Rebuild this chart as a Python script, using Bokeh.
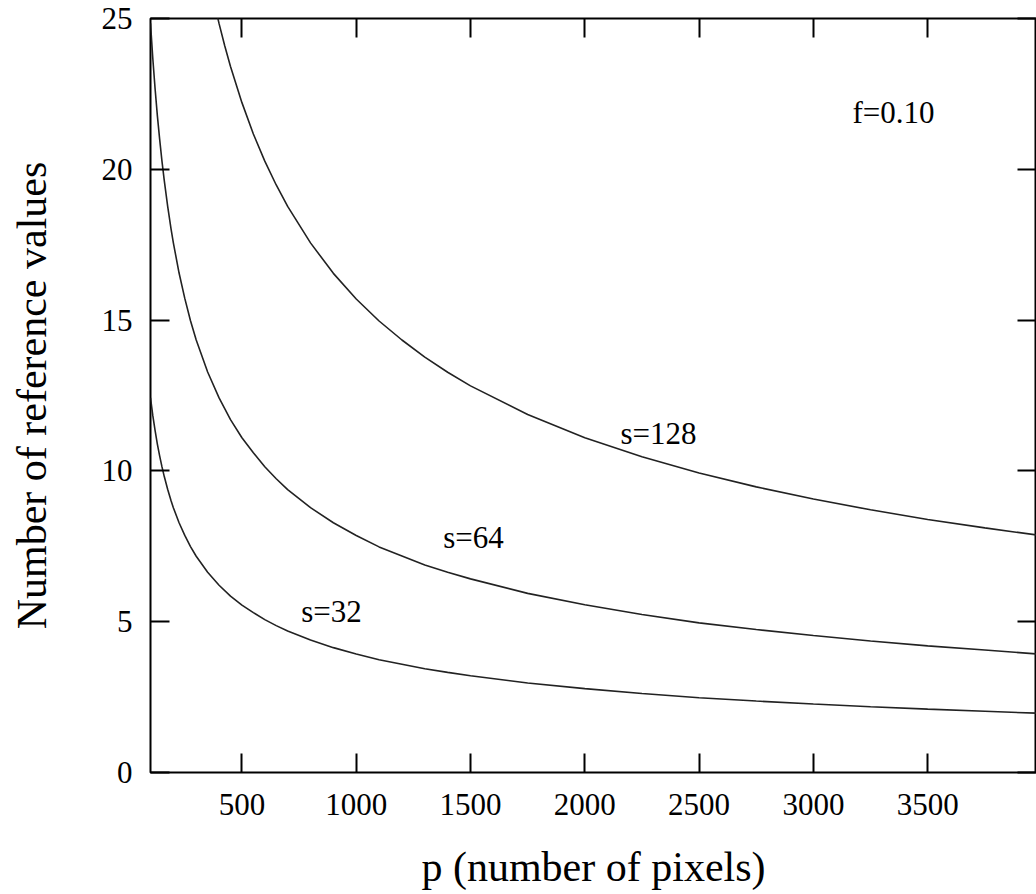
from bokeh.plotting import figure
from bokeh.models import LinearAxis, FixedTicker, Range1d, ColumnDataSource
from bokeh.core.properties import value
from bokeh.embed import file_html
from bokeh.resources import INLINE

# ---- data ----
p_low = [100, 110, 120, 130, 140, 150, 160, 175, 190, 200, 225, 250, 275, 300, 350, 400, 450, 500,
         550, 600, 650, 700, 800, 900, 1000, 1100, 1200, 1300, 1400, 1500, 1750, 2000, 2250, 2500,
         2750, 3000, 3250, 3500, 3750, 4000]
v_s32 = [12.42, 11.84, 11.34, 10.89, 10.50, 10.14, 9.82, 9.39, 9.01, 8.78, 8.28, 7.86, 7.49, 7.17,
         6.64, 6.21, 5.85, 5.55, 5.30, 5.07, 4.87, 4.69, 4.39, 4.14, 3.93, 3.74, 3.59, 3.44, 3.32,
         3.21, 2.97, 2.78, 2.62, 2.48, 2.37, 2.27, 2.18, 2.10, 2.03, 1.96]
v_s64 = [24.84, 23.68, 22.68, 21.78, 21.00, 20.28, 19.64, 18.78, 18.02, 17.56, 16.56, 15.72, 14.98,
         14.34, 13.28, 12.42, 11.70, 11.10, 10.60, 10.14, 9.74, 9.38, 8.78, 8.28, 7.86, 7.48, 7.18,
         6.88, 6.64, 6.42, 5.94, 5.56, 5.24, 4.96, 4.74, 4.54, 4.36, 4.20, 4.06, 3.92]

p_s128 = [380, 400, 425, 450, 500, 550, 600, 650, 700, 800, 900, 1000, 1100, 1200, 1300, 1400, 1500,
          1750, 2000, 2250, 2500, 2750, 3000, 3250, 3500, 3750, 4000]
v_s128 = [25.48, 24.83, 24.09, 23.41, 22.21, 21.17, 20.27, 19.48, 18.77, 17.56, 16.55, 15.70, 14.97,
          14.34, 13.77, 13.27, 12.82, 11.87, 11.10, 10.47, 9.93, 9.47, 9.07, 8.71, 8.39, 8.11, 7.85]

label_text = ["s=32", "s=64", "s=128", "f=0.10"]
label_x = [892, 1513, 2322, 3350]
label_y = [5.34, 7.78, 11.25, 21.87]

x_ticks = [500, 1000, 1500, 2000, 2500, 3000, 3500]
y_ticks = [0, 5, 10, 15, 20, 25]

FONT = "Liberation Serif"

p = figure(width=1036, height=894,
           x_range=Range1d(100, 3976), y_range=Range1d(0, 25),
           output_backend="svg", toolbar_location=None,
           min_border_left=150, min_border_right=0,
           min_border_top=18, min_border_bottom=122)

p.xgrid.visible = False
p.ygrid.visible = False
p.outline_line_color = "black"
p.outline_line_width = 2
p.outline_line_alpha = 1.0
p.background_fill_color = "white"
p.border_fill_color = "white"

for s_x, s_y in ((p_low, v_s32), (p_low, v_s64), (p_s128, v_s128)):
    p.line(s_x, s_y, line_color="#222222", line_width=1.6)

src = ColumnDataSource(dict(x=label_x, y=label_y, t=label_text))
p.text(x="x", y="y", text="t", source=src, text_font=value(FONT),
       text_font_size="31px", text_align="center", text_baseline="middle",
       text_color="black")

def style_axis(ax, ticks, show_labels=True):
    ax.ticker = FixedTicker(ticks=ticks)
    ax.axis_line_color = None
    ax.major_tick_in = 19
    ax.major_tick_out = 0
    ax.major_tick_line_width = 2
    ax.major_tick_line_color = "black"
    ax.minor_tick_line_color = None
    ax.major_label_text_font = FONT
    ax.major_label_text_font_size = "31px"
    ax.major_label_text_color = "black"
    if not show_labels:
        ax.major_label_overrides = {t: "" for t in ticks}
        ax.major_label_standoff = 0

xa = p.xaxis[0]
style_axis(xa, x_ticks)
xa.major_label_standoff = 21
xa.axis_label = "p (number of pixels)"
xa.axis_label_text_font = FONT
xa.axis_label_text_font_size = "42px"
xa.axis_label_text_font_style = "normal"
xa.axis_label_text_color = "black"
xa.axis_label_standoff = 26

ya = p.yaxis[0]
style_axis(ya, y_ticks)
ya.major_label_standoff = 18
ya.axis_label = "Number of reference values"
ya.axis_label_text_font = FONT
ya.axis_label_text_font_size = "42px"
ya.axis_label_text_font_style = "normal"
ya.axis_label_text_color = "black"
ya.axis_label_standoff = 44

top = LinearAxis()
style_axis(top, x_ticks, show_labels=False)
p.add_layout(top, "above")

right = LinearAxis()
style_axis(right, y_ticks, show_labels=False)
p.add_layout(right, "right")

open("out.html", "w").write(file_html(p, INLINE))
